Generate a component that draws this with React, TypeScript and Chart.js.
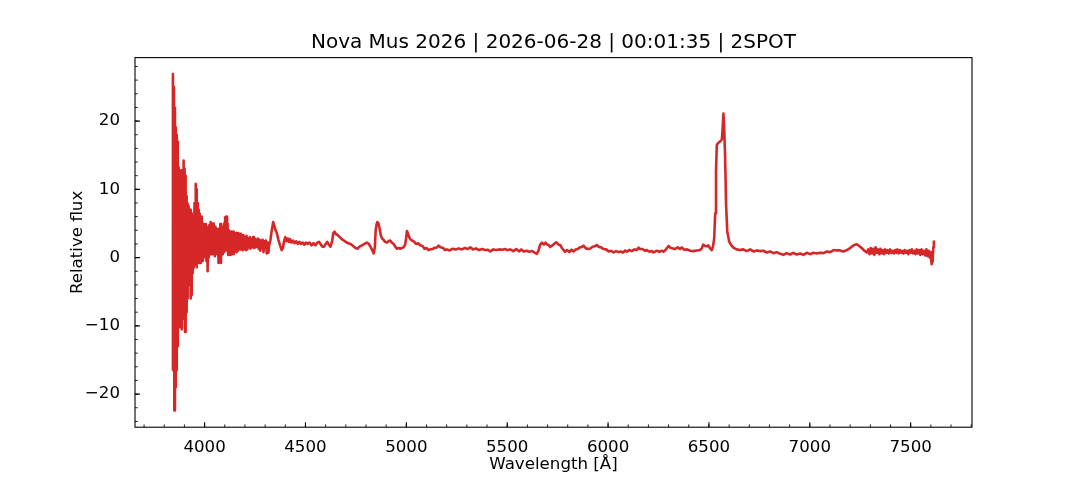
import { useEffect, useRef } from "react";
import { Chart, registerables } from "chart.js";

Chart.register(...registerables);

const titleText = "Nova Mus 2026 | 2026-06-28 | 00:01:35 | 2SPOT";
const xAxisLabel = "Wavelength [Å]";
const yAxisLabel = "Relative flux";

const xMajorTicks = [4000, 4500, 5000, 5500, 6000, 6500, 7000, 7500];
const yMajorTicks = [-20, -10, 0, 10, 20];
const xMinorStep = 100;
const yMinorStep = 2;

// Blue end: very noisy region (Å / relative flux)
const blueWavelength = [
  3840, 3843, 3846, 3848, 3850, 3853, 3855, 3857, 3859, 3861,
  3863, 3865, 3867, 3869, 3871, 3873, 3875, 3877, 3879, 3881,
  3883, 3885, 3887, 3889, 3891, 3893, 3895, 3897, 3899, 3901,
  3903, 3905, 3907, 3909, 3911, 3913, 3915, 3917, 3919, 3921,
  3923, 3925, 3927, 3929, 3931, 3933, 3935, 3937, 3939, 3941,
  3943, 3945, 3947, 3950, 3953, 3955, 3957, 3959, 3961, 3963,
  3965, 3967, 3969, 3971, 3973, 3975, 3977, 3979, 3981, 3983,
  3985, 3987, 3989, 3991, 3993, 3995, 3997, 4000, 4003, 4006,
  4009, 4012, 4015, 4018, 4021, 4024, 4027, 4030, 4033, 4036,
  4039, 4042, 4045, 4048, 4051, 4054, 4057, 4060, 4063, 4066,
  4069, 4072, 4075, 4078, 4081, 4084, 4087, 4090, 4093, 4096,
  4099, 4102, 4105, 4108, 4111, 4114, 4117, 4120, 4123, 4126,
  4129, 4132, 4135, 4138, 4141, 4144, 4147, 4150, 4153, 4156,
  4159, 4162, 4165, 4168, 4171, 4174, 4177, 4180, 4183, 4186,
  4189, 4192, 4196, 4200, 4204, 4208, 4212, 4216, 4220, 4224,
  4228, 4232, 4236, 4240, 4244, 4248, 4252, 4256, 4260, 4264,
  4268, 4272, 4276, 4280, 4284, 4288, 4292, 4296, 4300, 4304,
  4308, 4312, 4316, 4320,
];
const blueFlux = [
  -16.5, 26.9, -15, 25, -22.4, 22, -19, 19.1, -16.5, 18,
  -14, 17, -13, 12, -10, 13.2, -9, 12.5, -10.2, 11,
  -8, 12.8, -10.5, 10, -9, 11, -7, 14.2, -8, 13,
  -10.9, 12, -9.5, 9, -8, 7.9, -6, 7, -4, 7.5,
  -3, 6.5, -2.5, 7, -6, 6, -5.5, 6.5, -2.3, 5,
  -1.5, 6, -1.4, 8, -1, 10.8, -0.5, 10, -1.4, 8,
  -0.3, 8, 0, 7, -0.8, 6.4, 0, 6, -0.8, 5.5,
  0.5, 6, -0.5, 5, 0.5, 4.9, 0, 4.5, 0.5, 4.9,
  -0.5, 4, -2, 4.5, 0, 4.8, 0.5, 5.2, 1, 4.5,
  0.5, 5, 1, 4, 0.2, 4.5, 1, 3.8, 0.5, 4.2,
  -0.8, 3.5, 0, 4.9, -0.8, 4, 0.5, 4.5, 0.8, 5,
  1, 5.9, 1.5, 6, 1, 5, 0.4, 4, 1, 3.5,
  0.4, 3.8, 1.2, 3.2, 0.5, 3.8, 0.9, 3.5, 1.2, 3.6,
  0.8, 3.3, 1, 3.6, 1.4, 3.2, 1.2, 3.5, 1.5, 3,
  1.1, 3.3, 1.3, 3, 1.1, 3.2, 1.2, 2.8, 1.5, 3,
  1.3, 2.7, 1.6, 3, 1.4, 2.8, 1.5, 2.6, 1.6, 2.8,
  1.3, 2.6, 1, 2.5, 1.4, 2.6, 0.8, 2.4, 1.5, 2.5,
  0.6, 2.2, 0.7, 1.8,
];

// Hγ to 5250 Å
const greenWavelength = [
  4326, 4333, 4340, 4346, 4352, 4358, 4366, 4374, 4382, 4388,
  4394, 4400, 4406, 4412, 4418, 4424, 4430, 4438, 4446, 4454,
  4462, 4470, 4478, 4486, 4494, 4502, 4510, 4520, 4530, 4540,
  4550, 4560, 4568, 4576, 4584, 4592, 4600, 4608, 4616, 4624,
  4632, 4638, 4644, 4652, 4660, 4670, 4680, 4690, 4700, 4712,
  4724, 4736, 4748, 4758, 4768, 4780, 4792, 4804, 4814, 4824,
  4832, 4838, 4844, 4848, 4852, 4856, 4862, 4868, 4874, 4880,
  4887, 4895, 4904, 4912, 4920, 4928, 4937, 4945, 4953, 4962,
  4970, 4978, 4986, 4993, 4998, 5003, 5008, 5014, 5020, 5028,
  5038, 5048, 5058, 5069, 5080, 5090, 5100, 5110, 5119, 5130,
  5140, 5150, 5160, 5170, 5182, 5192, 5201, 5215, 5230, 5245,
];
const greenFlux = [
  2.5, 4, 5.2, 4.6, 4, 3.6, 2.6, 1.8, 1.1, 1.4,
  2.4, 3, 2.4, 2.8, 2.3, 2.7, 2.2, 2.5, 2.1, 2.4,
  2, 2.3, 2, 2.2, 1.9, 2.2, 2, 2.2, 1.8, 2.1,
  1.8, 2.2, 2.3, 1.9, 1.6, 1.6, 2, 2.3, 1.9, 1.6,
  2.4, 3.6, 3.8, 3.4, 3.3, 3, 2.7, 2.5, 2.3, 2.1,
  2, 1.7, 1.4, 1.3, 1.6, 1.8, 2, 2.2, 2, 1.5,
  1, 0.6, 1.5, 4, 4.8, 5.2, 5, 4.2, 3.2, 2.8,
  2.6, 2.3, 2.2, 2.4, 2.5, 2.2, 2, 1.6, 1.3, 1.4,
  1.3, 1.4, 1.5, 1.8, 2.6, 3.9, 3.5, 3, 2.7, 2.5,
  2.35, 2.0, 2.1, 1.8, 1.7, 1.3, 1.4, 1.1, 1.2, 1.25,
  1.45, 1.45, 1.75, 1.5, 1.4, 1.1, 1.2, 1.05, 1.3, 1.2,
];

// 5260 Å to 6505 Å
const yellowWavelength = [
  5260, 5275, 5290, 5305, 5317, 5330, 5345, 5360, 5375, 5390,
  5405, 5416, 5430, 5445, 5460, 5475, 5490, 5500, 5515, 5530,
  5545, 5560, 5570, 5581, 5595, 5610, 5625, 5637, 5647, 5655,
  5662, 5672, 5682, 5690, 5697, 5705, 5713, 5722, 5732, 5743,
  5750, 5757, 5763, 5770, 5778, 5787, 5797, 5808, 5819, 5829,
  5840, 5850, 5860, 5870, 5878, 5890, 5903, 5913, 5923, 5934,
  5944, 5955, 5966, 5977, 5990, 6003, 6015, 6027, 6040, 6052,
  6063, 6075, 6085, 6093, 6105, 6118, 6130, 6142, 6151, 6159,
  6170, 6182, 6192, 6205, 6218, 6225, 6240, 6255, 6268, 6275,
  6288, 6300, 6308, 6318, 6330, 6345, 6357, 6365, 6378, 6392,
  6407, 6423, 6440, 6456, 6465, 6472, 6480, 6490, 6497, 6505,
];
const yellowFlux = [
  1.35, 1.2, 1.4, 1.25, 1.5, 1.2, 1.35, 1.1, 1.25, 1.1,
  1.15, 0.9, 1.2, 1.1, 1.2, 1.15, 1.25, 1.1, 1.2, 0.95,
  1.25, 0.9, 1.2, 0.9, 1.0, 0.85, 0.95, 0.7, 0.55, 1.0,
  1.8, 2.2, 1.9, 2.2, 1.95, 1.85, 1.55, 1.75, 2.0, 2.25,
  2.05, 1.85, 1.85, 1.45, 1.15, 0.85, 1.1, 0.8, 1.15, 0.9,
  1.2, 1.25, 1.5, 1.55, 1.75, 1.35, 1.25, 1.35, 1.6, 1.65,
  1.85, 1.55, 1.5, 1.25, 1.2, 0.9, 1.0, 0.75, 0.95, 0.8,
  0.9, 0.75, 1.05, 0.85, 1.1, 0.95, 1.2, 1.1, 1.45, 1.25,
  1.25, 1.0, 1.1, 0.85, 0.95, 0.75, 1.0, 0.85, 1.0, 0.85,
  1.25, 1.7, 1.45, 1.35, 1.25, 1.5, 1.25, 1.5, 1.15, 1.2,
  1.0, 0.95, 1.05, 1.1, 1.4, 1.9, 1.7, 1.65, 1.8, 1.4,
];

// Hα and the red continuum
const redWavelength = [
  6514, 6520, 6526, 6531, 6535, 6539, 6546, 6555, 6564, 6567,
  6572, 6576, 6580, 6585, 6591, 6601, 6611, 6621, 6637, 6654,
  6670, 6687, 6704, 6721, 6738, 6755, 6770, 6787, 6803, 6820,
  6836, 6853, 6869, 6885, 6902, 6918, 6935, 6952, 6968, 6985,
  7001, 7018, 7035, 7051, 7068, 7085, 7101, 7118, 7134, 7150,
  7167, 7183, 7196, 7208, 7220, 7233, 7245, 7257, 7270, 7282,
];
const redFlux = [
  1.1, 1.6, 2.8, 6.5, 12.6, 16.5, 16.8, 17, 17.3, 18.5,
  21.1, 18.5, 15, 7.7, 3.8, 2.3, 1.8, 1.46, 1.2, 1.1,
  1.2, 0.95, 1.2, 0.9, 1.05, 0.95, 1.0, 0.75, 0.9, 0.65,
  0.8, 0.55, 0.4, 0.65, 0.45, 0.7, 0.45, 0.6, 0.4, 0.7,
  0.5, 0.7, 0.6, 0.7, 0.65, 0.9, 0.8, 1.1, 1.05, 1.05,
  0.9, 1.1, 1.3, 1.6, 1.85, 1.96, 1.7, 1.4, 1.05, 0.75,
];

// Noisy far-red end
const farRedWavelength = [
  7290, 7296, 7302, 7308, 7314, 7320, 7326, 7332, 7338, 7344,
  7350, 7356, 7362, 7368, 7374, 7380, 7386, 7392, 7398, 7404,
  7410, 7416, 7422, 7428, 7434, 7440, 7446, 7452, 7458, 7464,
  7470, 7476, 7482, 7488, 7494, 7500, 7506, 7512, 7518, 7524,
  7530, 7536, 7542, 7548, 7554, 7560, 7566, 7572, 7578, 7584,
  7590, 7595, 7599, 7602, 7604, 7607, 7609, 7612, 7615,
];
const farRedFlux = [
  1.2, 0.5, 1.4, 0.6, 1.3, 0.4, 1.5, 0.7, 1.2, 0.5,
  1.3, 0.6, 1.1, 0.5, 1.2, 0.7, 1.1, 0.6, 1.2, 0.7,
  1, 0.6, 1.1, 0.7, 1.2, 0.6, 1.1, 0.7, 1, 0.6,
  1.1, 0.7, 1, 0.5, 1.1, 0.7, 1.2, 0.6, 1, 0.5,
  1.2, 0.6, 1.1, 0.4, 1.2, 0.5, 1, 0.3, 1.2, 0.2,
  1, 0, 0.8, -0.5, -0.97, 0.8, -0.6, 1.5, 2.5,
];

const wavelength = [
  ...blueWavelength,
  ...greenWavelength,
  ...yellowWavelength,
  ...redWavelength,
  ...farRedWavelength,
];
const flux = [...blueFlux, ...greenFlux, ...yellowFlux, ...redFlux, ...farRedFlux];

const FONT = "'DejaVu Sans', 'Liberation Sans', sans-serif";

const axesFramePlugin = {
  id: "axesFrame",
  afterDraw(chart: any) {
    const { ctx, chartArea: a, scales } = chart;
    const xs = scales.x;
    const ys = scales.y;
    ctx.save();
    ctx.strokeStyle = "#000000";
    // minor ticks (inward)
    ctx.lineWidth = 0.85;
    ctx.beginPath();
    for (let v = Math.ceil(xs.min / xMinorStep) * xMinorStep; v <= xs.max; v += xMinorStep) {
      const px = xs.getPixelForValue(v);
      ctx.moveTo(px, a.bottom);
      ctx.lineTo(px, a.bottom - 2.8);
    }
    for (let v = Math.ceil(ys.min / yMinorStep) * yMinorStep; v <= ys.max; v += yMinorStep) {
      const py = ys.getPixelForValue(v);
      ctx.moveTo(a.left, py);
      ctx.lineTo(a.left + 2.8, py);
    }
    ctx.stroke();
    // major ticks (inward)
    ctx.lineWidth = 1.1;
    ctx.beginPath();
    for (const v of xMajorTicks) {
      const px = xs.getPixelForValue(v);
      ctx.moveTo(px, a.bottom);
      ctx.lineTo(px, a.bottom - 4.9);
    }
    for (const v of yMajorTicks) {
      const py = ys.getPixelForValue(v);
      ctx.moveTo(a.left, py);
      ctx.lineTo(a.left + 4.9, py);
    }
    ctx.stroke();
    // spines
    ctx.lineWidth = 1.1;
    ctx.strokeRect(a.left, a.top, a.right - a.left, a.bottom - a.top);
    ctx.restore();
  },
};

export default function App() {
  const canvasRef = useRef<HTMLCanvasElement | null>(null);

  useEffect(() => {
    const canvas = canvasRef.current;
    if (!canvas) return;
    const points = wavelength.map((x, i) => ({ x, y: flux[i] }));
    const chart = new Chart(canvas, {
      type: "line",
      data: {
        datasets: [
          {
            data: points,
            borderColor: "#d62728",
            borderWidth: 2.6,
            pointRadius: 0,
            fill: false,
            tension: 0,
            borderJoinStyle: "round",
          },
        ],
      },
      options: {
        animation: false,
        responsive: false,
        events: [],
        parsing: false,
        normalized: true,
        layout: { padding: { top: 0, right: 108, bottom: 0, left: 0 } },
        plugins: {
          legend: { display: false },
          tooltip: { enabled: false },
          title: {
            display: true,
            text: titleText,
            fullSize: false,
            color: "#000000",
            font: { family: FONT, size: 20, weight: "normal", lineHeight: 1.2 },
            padding: { top: 30.4, bottom: 3.2 },
          },
        },
        scales: {
          x: {
            type: "linear",
            min: 3655,
            max: 7804,
            afterFit: (s: any) => {
              s.height = 52.8;
            },
            afterBuildTicks: (s: any) => {
              s.ticks = xMajorTicks.map((value) => ({ value }));
            },
            grid: { display: false },
            border: { display: false },
            ticks: {
              color: "#000000",
              font: { family: FONT, size: 16.67, lineHeight: 1.2 },
              padding: 2,
              maxRotation: 0,
              autoSkip: false,
              callback: (v: any) => String(v),
            },
            title: {
              display: true,
              text: xAxisLabel,
              color: "#000000",
              font: { family: FONT, size: 16.67, lineHeight: 1.2 },
              padding: { top: 0, bottom: 5.3 },
            },
          },
          y: {
            type: "linear",
            min: -24.85,
            max: 29.3,
            afterFit: (s: any) => {
              s.width = 135;
            },
            afterBuildTicks: (s: any) => {
              s.ticks = yMajorTicks.map((value) => ({ value }));
            },
            grid: { display: false },
            border: { display: false },
            ticks: {
              color: "#000000",
              font: { family: FONT, size: 16.67, lineHeight: 1.2 },
              padding: 7,
              autoSkip: false,
              callback: (v: any) => String(v).replace("-", "\u2212"),
            },
            title: {
              display: true,
              text: yAxisLabel,
              color: "#000000",
              font: { family: FONT, size: 16.67, lineHeight: 1.2 },
              padding: { top: 68, bottom: 0 },
            },
          },
        },
      },
      plugins: [axesFramePlugin],
    } as any);
    return () => chart.destroy();
  }, []);

  return (
    <div
      style={{
        position: "absolute",
        left: 0,
        top: 0,
        width: 1080,
        height: 480,
        background: "#ffffff",
      }}
    >
      <canvas ref={canvasRef} width={1080} height={480} style={{ display: "block" }} />
    </div>
  );
}
